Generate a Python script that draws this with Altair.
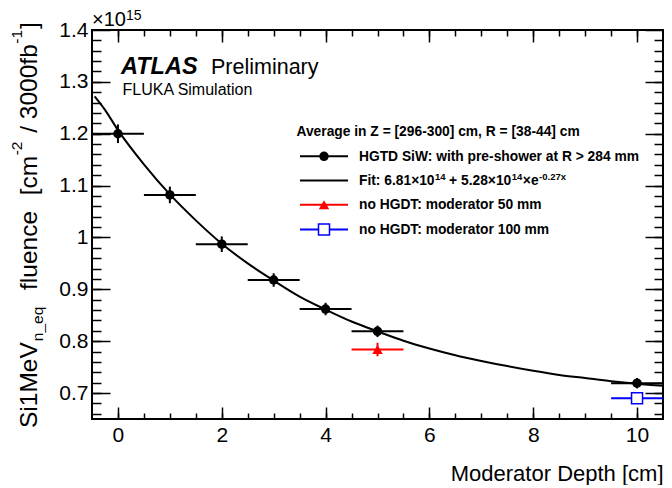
import altair as alt
import pandas as pd

FONT = "Liberation Sans"

# ---------------- data ----------------
depth = [0, 1, 2, 3, 4, 5, 10]
fluence = [1.200, 1.082, 0.987, 0.918, 0.862, 0.819, 0.719]
fluence_err = [0.018, 0.016, 0.015, 0.013, 0.012, 0.011, 0.010]
depth_halfwidth = 0.5

mod50_depth = [5]
mod50_fluence = [0.784]
mod50_err = [0.013]

mod100_depth = [10]
mod100_fluence = [0.690]
mod100_err = [0.008]

fit_x = [-0.45, -0.25, 0, 0.5, 1, 1.5, 2, 2.5, 3, 3.5, 4, 4.5, 5, 5.5, 6, 6.5,
         7, 7.5, 8, 8.5, 9, 9.5, 10, 10.5]
fit_y = [1.272, 1.246, 1.207, 1.141, 1.083, 1.033, 0.988, 0.950, 0.917, 0.886,
         0.861, 0.838, 0.819, 0.801, 0.786, 0.773, 0.762, 0.752, 0.743, 0.735,
         0.729, 0.723, 0.718, 0.714]

x_major = [0, 2, 4, 6, 8, 10]
x_minor = [round(0.5 * i, 2) for i in range(0, 21)]
y_major = [0.7, 0.8, 0.9, 1.0, 1.1, 1.2, 1.3, 1.4]
y_minor = [round(0.66 + 0.02 * i, 2) for i in range(0, 37)]

W, H = 571, 389

xs = alt.Scale(domain=[-0.5, 10.5], nice=False, zero=False)
ys = alt.Scale(domain=[0.65, 1.4], nice=False, zero=False)


def tick_axis(orient, values, size, offset):
    return alt.Axis(orient=orient, values=values, tickSize=size, tickWidth=1.5,
                    tickColor="black", labels=False, domain=False, grid=False,
                    title=None, offset=offset)


ax_x_labels = alt.Axis(orient="bottom", values=x_major, ticks=False, domain=False,
                       grid=False, labelFontSize=21, labelFont=FONT, labelColor="black",
                       labelPadding=5, labelFlush=False, format="d",
                       title="Moderator Depth [cm]", titleFontSize=22, titleFont=FONT,
                       titleFontWeight="normal", titleColor="black", titleAnchor="end",
                       titleAlign="right", titleBaseline="alphabetic", titleX=W, titleY=61)
ax_y_labels = alt.Axis(orient="left", values=y_major, ticks=False, domain=False,
                       grid=False, labelFontSize=21, labelFont=FONT, labelColor="black",
                       labelPadding=4, format="~g", title=None)

one = pd.DataFrame({"k": [0]})
df = pd.DataFrame({"depth": depth, "fluence": fluence, "err": fluence_err})
df50 = pd.DataFrame({"depth": mod50_depth, "fluence": mod50_fluence, "err": mod50_err})
df100 = pd.DataFrame({"depth": mod100_depth, "fluence": mod100_fluence, "err": mod100_err})
dfit = pd.DataFrame({"x": fit_x, "y": fit_y})

calc = dict(xlo=f"datum.depth - {depth_halfwidth}", xhi=f"datum.depth + {depth_halfwidth}",
            ylo="datum.fluence - datum.err", yhi="datum.fluence + datum.err")

# fit curve (carries label axes)
fit_line = alt.Chart(dfit).mark_line(color="black", strokeWidth=2, clip=True,
                                     interpolate="monotone").encode(
    x=alt.X("x:Q", scale=xs, axis=ax_x_labels),
    y=alt.Y("y:Q", scale=ys, axis=ax_y_labels),
)

black_xerr = alt.Chart(df).transform_calculate(**calc).mark_rule(
    color="black", strokeWidth=2).encode(
    x=alt.X("xlo:Q", scale=xs, axis=tick_axis("bottom", x_major, 12, -H)),
    x2="xhi:Q",
    y=alt.Y("fluence:Q", scale=ys, axis=tick_axis("left", y_major, 18, -W)),
)
black_yerr = alt.Chart(df).transform_calculate(**calc).mark_rule(
    color="black", strokeWidth=2).encode(
    x=alt.X("depth:Q", scale=xs, axis=tick_axis("top", x_minor, 6, -H)),
    y=alt.Y("ylo:Q", scale=ys, axis=tick_axis("right", y_minor, 9, -W)),
    y2="yhi:Q",
)
black_pts = alt.Chart(df).mark_point(filled=True, shape="circle", size=90,
                                     color="black", opacity=1).encode(
    x=alt.X("depth:Q", scale=xs, axis=tick_axis("top", x_major, 12, -H)),
    y=alt.Y("fluence:Q", scale=ys, axis=tick_axis("right", y_major, 18, -W)),
)
red_xerr = alt.Chart(df50).transform_calculate(**calc).mark_rule(
    color="#ff0000", strokeWidth=2).encode(
    x=alt.X("xlo:Q", scale=xs, axis=tick_axis("bottom", x_minor, 6, -H)),
    x2="xhi:Q",
    y=alt.Y("fluence:Q", scale=ys, axis=tick_axis("left", y_minor, 9, -W)),
)
red_yerr = alt.Chart(df50).transform_calculate(**calc).mark_rule(
    color="#ff0000", strokeWidth=2).encode(
    x=alt.X("depth:Q", scale=xs, axis=None),
    y=alt.Y("ylo:Q", scale=ys, axis=None),
    y2="yhi:Q",
)
red_pts = alt.Chart(df50).mark_point(filled=True, shape="triangle-up", size=110,
                                     color="#ff0000", opacity=1).encode(
    x=alt.X("depth:Q", scale=xs, axis=None),
    y=alt.Y("fluence:Q", scale=ys, axis=None),
)
blue_xerr = alt.Chart(df100).transform_calculate(**calc).mark_rule(
    color="#0000ff", strokeWidth=2).encode(
    x=alt.X("xlo:Q", scale=xs, axis=None),
    x2="xhi:Q",
    y=alt.Y("fluence:Q", scale=ys, axis=None),
)
blue_pts = alt.Chart(df100).mark_point(filled=False, shape="square", size=121,
                                       color="#0000ff", fill="white", fillOpacity=1,
                                       strokeWidth=1.5, opacity=1).encode(
    x=alt.X("depth:Q", scale=xs, axis=None),
    y=alt.Y("fluence:Q", scale=ys, axis=None),
)

# ---------------- text helpers ----------------
REG = {' ': 278, '-': 333, '/': 278, '[': 278, ']': 278, '.': 278, '_': 556,
       'S': 667, 'i': 222, 'M': 833, 'e': 556, 'V': 667, 'n': 556, 'q': 556,
       'f': 278, 'l': 222, 'u': 556, 'c': 500, 'm': 833, 'b': 556, '×': 584}
BOLD = {' ': 278, '+': 584, '-': 333, '.': 278, ':': 333, 'F': 611, 'i': 278,
        't': 333, 'e': 556, 'x': 556, '×': 584}
for d in "0123456789":
    REG[d] = 556
    BOLD[d] = 556


def width(text, size, table):
    return sum(table[c] for c in text) / 1000.0 * size


def txt(text, x, y, size, weight="normal", style="normal", angle=0, color="black"):
    return alt.Chart(one).mark_text(
        fontSize=size, font=FONT, fontWeight=weight, fontStyle=style, angle=angle,
        align="left", baseline="alphabetic", color=color).encode(
        x=alt.value(x), y=alt.value(y), text=alt.value(text))


texts = []
# exponent label
texts.append(txt("×10", 0, -4, 20))
texts.append(txt("15", width("×10", 20, REG), -10.5, 14))

# y axis title (rotated, with sub/superscripts)
S, s = 24.5, 15.5
sp = REG[' '] / 1000.0 * S
ytitle_pieces = [
    ("Si1MeV", S, 0, 0.0),
    ("n_eq", s, 6, 1.0),
    ("fluence", S, 0, sp + 10),
    ("[cm", S, 0, 2 * sp + 2),
    ("-2", s, -15, 0.5),
    ("/ 3000fb", S, 0, sp + 2),
    ("-1", s, -15, 0.5),
    ("]", S, 0, 1.0),
]
cum = 0.0
for t, size, dx, gap in ytitle_pieces:
    cum += gap
    texts.append(txt(t, -55 + dx, 398 - cum, size, angle=270))
    cum += width(t, size, REG)

# ATLAS label
texts.append(txt("ATLAS", 29, 43.5, 23.5, weight="bold", style="italic"))
texts.append(txt("Preliminary", 119, 43.5, 21.5))
texts.append(txt("FLUKA Simulation", 30.5, 65, 16))

# legend
LF = 13.8
LS = 9.5
texts.append(txt("Average in Z = [296-300] cm, R = [38-44] cm", 204.5, 105.7, LF, weight="bold"))
texts.append(txt("HGTD SiW: with pre-shower at R > 284 mm", 267, 130.7, LF, weight="bold"))
fit_pieces = [("Fit: 6.81×10", LF, 0, 0.0), ("14", LS, -5, 0.5),
              ("+ 5.28×10", LF, 0, 3.5), ("14", LS, -5, 0.5),
              ("×e", LF, 0, 0.5), ("-0.27x", LS, -5, 0.5)]
cx = 267.0
for t, size, dy, gap in fit_pieces:
    cx += gap
    texts.append(txt(t, cx, 155 + dy, size, weight="bold"))
    cx += width(t, size, BOLD)
texts.append(txt("no HGDT: moderator 50 mm", 267, 179.3, LF, weight="bold"))
texts.append(txt("no HGDT: moderator 100 mm", 267, 204, LF, weight="bold"))

leg_rows = [126.3, 150.5, 174.8, 199.5]
leg = []
leg.append(alt.Chart(one).mark_rule(color="black", strokeWidth=2).encode(
    x=alt.value(208), x2=alt.value(256), y=alt.value(leg_rows[0])))
leg.append(alt.Chart(one).mark_point(filled=True, shape="circle", size=90, color="black",
                                     opacity=1).encode(x=alt.value(232), y=alt.value(leg_rows[0])))
leg.append(alt.Chart(one).mark_rule(color="black", strokeWidth=2).encode(
    x=alt.value(208), x2=alt.value(256), y=alt.value(leg_rows[1])))
leg.append(alt.Chart(one).mark_rule(color="#ff0000", strokeWidth=2).encode(
    x=alt.value(208), x2=alt.value(256), y=alt.value(leg_rows[2])))
leg.append(alt.Chart(one).mark_point(filled=True, shape="triangle-up", size=110,
                                     color="#ff0000", opacity=1).encode(
    x=alt.value(232), y=alt.value(leg_rows[2])))
leg.append(alt.Chart(one).mark_rule(color="#0000ff", strokeWidth=2).encode(
    x=alt.value(208), x2=alt.value(256), y=alt.value(leg_rows[3])))
leg.append(alt.Chart(one).mark_point(filled=False, shape="square", size=121,
                                     color="#0000ff", fill="white", fillOpacity=1,
                                     strokeWidth=1.5, opacity=1).encode(
    x=alt.value(232), y=alt.value(leg_rows[3])))

chart = alt.layer(
    fit_line, black_xerr, black_yerr, black_pts, red_xerr,
    red_yerr, blue_xerr, red_pts, blue_pts, *leg, *texts
).resolve_axis(x="independent", y="independent").properties(
    width=W, height=H,
    autosize=alt.AutoSizeParams(type="none"),
    padding={"left": 84, "top": 22, "right": 1, "bottom": 66},
    background="white",
).configure_view(stroke="black", strokeWidth=2)

chart.save("out.html", embed_options={"renderer": "svg", "actions": False})
